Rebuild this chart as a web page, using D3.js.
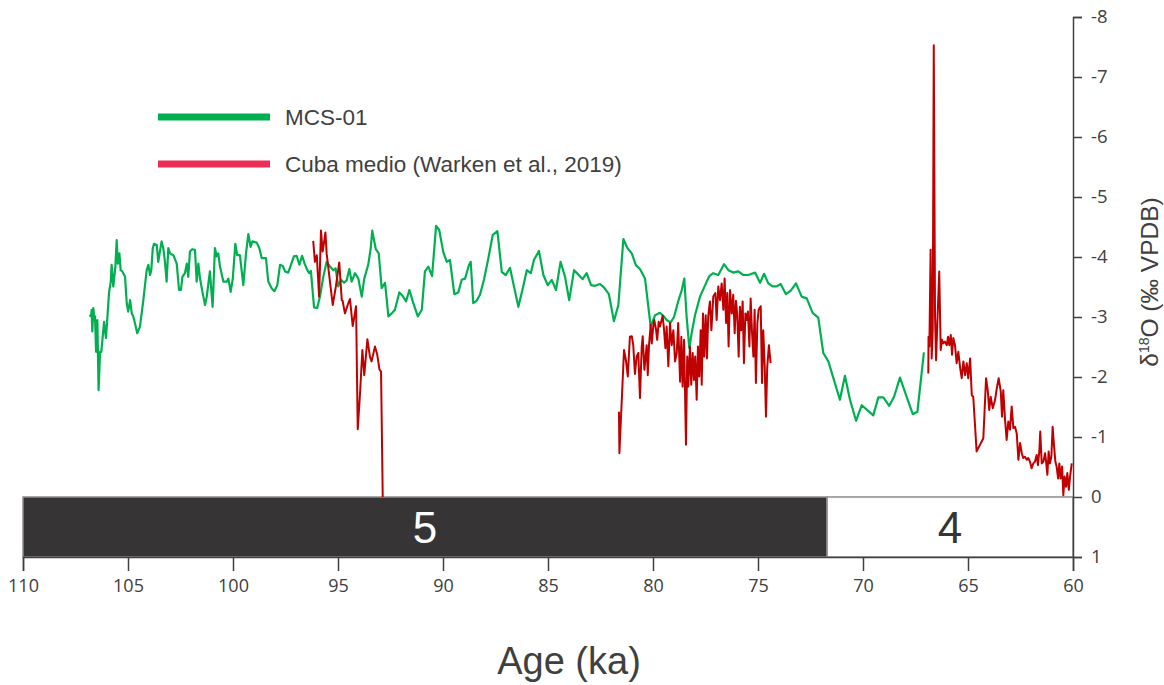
<!DOCTYPE html>
<html>
<head>
<meta charset="utf-8">
<script src="https://cdn.jsdelivr.net/npm/d3@7"></script>
<style>
  html, body { margin: 0; padding: 0; background: #fff; }
  svg { display: block; }
</style>
</head>
<body>
<svg id="chart" width="1164" height="685"></svg>
<script>
// MCS-01 speleothem record: age (ka) and δ18O (‰ VPDB)
const mcsAge = [106.84,106.76,106.73,106.70,106.65,106.60,106.57,106.52,106.46,106.40,106.33,106.27,106.14,106.05,105.99,105.90,105.82,105.78,105.70,105.60,105.54,105.48,105.41,105.35,105.27,105.14,105.06,104.99,104.90,104.82,104.75,104.67,104.56,104.43,104.27,104.11,104.03,103.95,103.89,103.82,103.76,103.63,103.56,103.48,103.40,103.32,103.24,103.16,103.08,103.00,102.84,102.68,102.57,102.48,102.41,102.29,102.20,102.13,102.05,101.94,101.81,101.73,101.65,101.57,101.44,101.33,101.25,101.10,100.97,100.86,100.78,100.70,100.62,100.46,100.30,100.22,100.11,100.01,99.89,99.80,99.67,99.51,99.38,99.27,99.16,99.08,98.87,98.75,98.63,98.43,98.32,98.16,98.03,97.89,97.76,97.63,97.52,97.37,97.20,97.10,96.97,96.84,96.71,96.59,96.46,96.37,96.29,96.14,95.99,95.86,95.70,95.54,95.38,95.22,95.11,94.99,94.86,94.71,94.59,94.46,94.35,94.19,94.03,93.87,93.75,93.56,93.44,93.37,93.20,93.06,92.92,92.76,92.60,92.44,92.29,92.08,91.92,91.76,91.60,91.44,91.20,91.01,90.86,90.70,90.52,90.33,90.18,89.99,89.82,89.67,89.46,89.27,89.11,88.95,88.76,88.68,88.56,88.40,88.24,88.05,87.84,87.63,87.41,87.20,87.01,86.81,86.62,86.41,86.18,86.01,85.82,85.67,85.43,85.22,85.01,84.82,84.62,84.40,84.19,83.99,83.76,83.56,83.35,83.16,82.95,82.76,82.52,82.33,82.10,81.86,81.65,81.41,81.22,81.01,80.81,80.62,80.38,80.11,79.90,79.67,79.51,79.35,79.16,79.00,78.80,78.63,78.51,78.40,78.27,78.16,78.00,77.76,77.48,77.32,77.13,76.89,76.62,76.41,76.18,75.94,75.70,75.46,75.14,74.90,74.71,74.51,74.30,74.11,73.92,73.67,73.44,73.19,72.92,72.68,72.40,72.13,71.89,71.65,71.10,70.86,70.62,70.33,70.06,69.51,69.27,69.03,68.75,68.52,68.24,67.92,67.63,67.41,67.10];
const mcsD18O = [-3.03,-3.01,-3.12,-2.76,-3.15,-2.95,-3.01,-2.42,-2.95,-1.78,-2.42,-2.42,-2.92,-2.65,-2.95,-3.42,-3.59,-3.87,-3.51,-3.84,-4.28,-3.89,-4.06,-3.78,-3.76,-3.67,-3.23,-3.09,-3.28,-3.06,-3.01,-2.90,-2.73,-2.84,-3.28,-3.78,-3.87,-3.70,-3.78,-4.15,-4.22,-4.20,-3.92,-4.09,-4.26,-4.15,-3.92,-3.59,-4.15,-4.06,-4.03,-3.89,-3.45,-3.45,-3.67,-3.73,-3.89,-3.67,-4.09,-4.13,-4.12,-3.59,-3.89,-3.64,-3.39,-3.20,-3.34,-3.76,-3.17,-4.15,-4.01,-4.06,-3.84,-3.59,-3.59,-3.64,-3.42,-3.64,-4.22,-4.03,-4.03,-3.53,-4.06,-4.38,-4.17,-4.26,-4.24,-4.15,-3.98,-3.98,-3.59,-3.48,-3.43,-3.53,-3.87,-3.85,-3.76,-3.74,-3.91,-4.01,-4.02,-3.87,-4.02,-3.89,-3.78,-3.73,-3.77,-3.16,-3.15,-3.34,-3.67,-3.92,-3.84,-3.78,-3.81,-3.51,-3.62,-3.57,-3.61,-3.80,-3.59,-3.73,-3.64,-3.34,-3.64,-3.87,-4.15,-4.44,-4.13,-4.06,-3.48,-3.57,-3.01,-3.06,-3.12,-3.41,-3.35,-3.26,-3.45,-3.26,-3.01,-3.12,-3.76,-3.84,-3.68,-4.52,-4.45,-4.09,-3.92,-3.95,-3.38,-3.41,-3.62,-3.64,-3.87,-3.92,-3.23,-3.27,-3.37,-3.62,-3.98,-4.37,-4.43,-3.75,-3.70,-3.82,-3.51,-3.17,-3.51,-3.78,-3.73,-3.95,-4.10,-3.70,-3.53,-3.62,-3.45,-3.92,-3.67,-3.28,-3.78,-3.71,-3.63,-3.73,-3.53,-3.52,-3.55,-3.49,-3.38,-2.93,-3.20,-4.30,-4.15,-4.06,-3.86,-3.80,-3.64,-2.84,-3.03,-3.07,-3.02,-2.95,-2.91,-3.00,-3.26,-3.45,-3.64,-3.01,-2.48,-2.73,-3.03,-3.34,-3.56,-3.68,-3.73,-3.70,-3.88,-3.78,-3.74,-3.76,-3.70,-3.70,-3.74,-3.57,-3.72,-3.56,-3.51,-3.51,-3.55,-3.38,-3.44,-3.56,-3.34,-3.31,-3.07,-2.99,-2.40,-2.26,-1.62,-2.02,-1.62,-1.27,-1.53,-1.36,-1.66,-1.66,-1.52,-1.67,-1.99,-1.67,-1.38,-1.42,-2.41];

// Cuba medio record (Warken et al., 2019), three growth segments
const cubaAge1 = [96.18,96.10,96.01,95.90,95.81,95.73,95.65,95.60,95.54,95.41,95.25,95.10,94.94,94.82,94.78,94.67,94.51,94.43,94.30,94.22,94.14,94.06,93.95,93.84,93.75,93.60,93.48,93.40,93.24,93.13,93.03,92.95,92.87];
const cubaD18O1 = [-4.27,-3.92,-4.03,-3.34,-4.44,-4.09,-4.28,-4.41,-4.06,-3.67,-3.20,-3.51,-3.91,-3.28,-3.27,-3.06,-3.23,-3.30,-2.85,-3.01,-3.18,-1.13,-1.73,-2.45,-2.03,-2.63,-2.34,-2.26,-2.51,-2.37,-2.13,-2.09,0.00];

const cubaAge2 = [81.62,81.60,81.38,81.29,81.20,81.10,81.01,80.94,80.86,80.78,80.70,80.62,80.54,80.49,80.41,80.30,80.25,80.19,80.11,80.06,79.99,79.94,79.86,79.80,79.73,79.67,79.59,79.54,79.48,79.41,79.35,79.27,79.19,79.11,79.03,78.95,78.87,78.80,78.71,78.65,78.59,78.52,78.48,78.43,78.37,78.32,78.24,78.18,78.11,78.05,77.99,77.92,77.86,77.80,77.73,77.68,77.62,77.56,77.49,77.43,77.37,77.29,77.22,77.13,77.03,76.97,76.89,76.81,76.73,76.65,76.59,76.52,76.46,76.40,76.33,76.25,76.18,76.11,76.05,75.99,75.92,75.86,75.80,75.73,75.67,75.60,75.54,75.48,75.41,75.35,75.29,75.22,75.16,75.10,75.03,74.97,74.87,74.81,74.75,74.68,74.62,74.56,74.48,74.40];
const cubaD18O2 = [-1.42,-0.73,-2.45,-2.28,-2.01,-2.67,-2.68,-2.53,-2.05,-2.34,-2.40,-1.65,-2.48,-2.68,-2.12,-2.53,-2.03,-2.53,-2.87,-2.56,-2.83,-2.95,-2.80,-2.62,-2.92,-2.84,-2.95,-3.02,-2.81,-2.48,-2.84,-2.18,-2.90,-2.53,-2.78,-2.26,-2.40,-2.90,-1.92,-2.67,-1.84,-2.62,-1.84,-0.87,-2.34,-1.84,-2.51,-1.87,-2.40,-1.95,-2.34,-1.62,-2.51,-2.01,-2.78,-1.87,-3.06,-2.34,-3.03,-2.31,-3.01,-3.26,-2.78,-3.34,-3.40,-2.95,-3.51,-3.28,-3.56,-3.12,-3.64,-2.90,-3.40,-2.51,-3.45,-3.06,-3.37,-2.73,-3.27,-3.06,-2.34,-3.17,-2.78,-3.26,-2.23,-3.06,-2.95,-3.09,-2.51,-3.31,-2.78,-2.34,-3.12,-1.90,-2.90,-3.12,-3.18,-1.90,-2.78,-2.17,-1.34,-2.17,-2.53,-2.23];

const cubaAge3 = [66.89,66.88,66.84,66.78,66.73,66.68,66.63,66.57,66.52,66.46,66.37,66.30,66.24,66.18,66.10,66.01,65.95,65.89,65.82,65.76,65.70,65.62,65.54,65.46,65.38,65.30,65.22,65.14,65.06,64.99,64.90,64.82,64.75,64.59,64.27,64.14,64.06,63.99,63.92,63.82,63.71,63.63,63.54,63.44,63.38,63.32,63.24,63.16,63.08,63.00,62.92,62.84,62.76,62.68,62.60,62.52,62.44,62.37,62.29,62.20,62.13,62.05,61.97,61.89,61.81,61.73,61.67,61.60,61.56,61.49,61.41,61.33,61.29,61.22,61.16,61.10,61.03,60.97,60.90,60.84,60.78,60.71,60.65,60.59,60.52,60.46,60.40,60.33,60.27,60.20,60.14,60.06];
const cubaD18O3 = [-2.06,-2.67,-2.51,-4.12,-2.31,-2.78,-7.53,-3.01,-2.28,-2.90,-3.76,-2.45,-2.62,-2.56,-2.59,-2.53,-2.67,-2.53,-2.70,-2.37,-2.65,-2.53,-2.23,-2.42,-2.17,-1.98,-2.26,-2.03,-2.23,-1.98,-2.31,-1.70,-1.67,-0.76,-0.98,-1.98,-1.78,-1.45,-1.67,-1.48,-1.62,-1.81,-1.98,-1.76,-1.34,-1.78,-1.31,-0.95,-1.26,-1.12,-1.51,-1.15,-1.17,-1.06,-0.62,-0.90,-0.73,-0.65,-0.67,-0.62,-0.65,-0.59,-0.48,-0.56,-0.59,-0.70,-0.53,-0.78,-1.09,-0.56,-0.59,-0.73,-0.62,-0.37,-0.76,-0.56,-0.67,-1.17,-0.84,-0.59,-0.51,-0.31,-0.56,-0.31,-0.51,-0.03,-0.34,-0.17,-0.40,-0.12,-0.34,-0.56];

// Marine isotope stages
const stageNames = ["5", "4"];
const stageStart = [110, 71.71];
const stageEnd = [71.71, 60];

// Axis ticks
const ageTicks = [110, 105, 100, 95, 90, 85, 80, 75, 70, 65, 60];
const d18oTicks = [-8, -7, -6, -5, -4, -3, -2, -1, 0, 1];

// Legend entries
const legendLabels = ["MCS-01", "Cuba medio (Warken et al., 2019)"];
const legendColors = ["#00b050", "#ec2d57"];

const svg = d3.select("#chart");
const x = d3.scaleLinear().domain([110, 60]).range([23, 1073]);
const y = d3.scaleLinear().domain([-8, 1]).range([17, 557]);
const barTop = y(0), barBottom = y(1);
const textColor = "#404040";

// Stage bar
const stages = stageNames.map((n, i) => ({ name: n, a: stageStart[i], b: stageEnd[i] }));
svg.selectAll("rect.stage").data(stages).enter().append("rect")
  .attr("x", d => x(d.a))
  .attr("y", barTop)
  .attr("width", d => x(d.b) - x(d.a))
  .attr("height", barBottom - barTop)
  .attr("fill", (d, i) => i === 0 ? "#363435" : "#ffffff")
  .attr("stroke", "#8c8c8c")
  .attr("stroke-width", 1.5);
svg.selectAll("text.stage").data(stages).enter().append("text")
  .attr("x", d => (x(d.a) + x(d.b)) / 2)
  .attr("y", (barTop + barBottom) / 2 + 16)
  .attr("text-anchor", "middle")
  .attr("font-family", "'Liberation Sans', Arial, sans-serif")
  .attr("font-size", 44)
  .attr("fill", (d, i) => i === 0 ? "#ffffff" : "#363435")
  .text(d => d.name);

// Data lines
const line = d3.line().x(d => x(d[0])).y(d => y(d[1]));
const zip = (a, b) => a.map((v, i) => [v, b[i]]);
svg.append("path").datum(zip(mcsAge, mcsD18O))
  .attr("d", line).attr("fill", "none")
  .attr("stroke", "#00b050").attr("stroke-width", 2.2).attr("stroke-linejoin", "round");
[[cubaAge1, cubaD18O1], [cubaAge2, cubaD18O2], [cubaAge3, cubaD18O3]].forEach(([a, v]) => {
  svg.append("path").datum(zip(a, v))
    .attr("d", line).attr("fill", "none")
    .attr("stroke", "#c00000").attr("stroke-width", 2).attr("stroke-linejoin", "round");
});

// Bottom axis
const xAxis = svg.append("g").attr("transform", `translate(0,${barBottom})`)
  .call(d3.axisBottom(x).tickValues(ageTicks).tickSize(14).tickPadding(8).tickFormat(d3.format("d")));
xAxis.select(".domain").attr("stroke", "#404040").attr("stroke-width", 1.5);
xAxis.selectAll(".tick line").attr("stroke", "#404040").attr("stroke-width", 1.5);
xAxis.selectAll("text").attr("font-family", "'Open Sans', sans-serif").attr("font-size", 18).attr("fill", textColor);

// Right axis
const yAxis = svg.append("g").attr("transform", `translate(${x(60)},0)`)
  .call(d3.axisRight(y).tickValues(d18oTicks).tickSize(9).tickPadding(9).tickFormat(d3.format("d")));
yAxis.select(".domain").attr("stroke", "#404040").attr("stroke-width", 1.5);
yAxis.selectAll(".tick line").attr("stroke", "#404040").attr("stroke-width", 1.5);
yAxis.selectAll("text").attr("font-family", "'Open Sans', sans-serif").attr("font-size", 18.5).attr("fill", textColor)
  .text(d => d < 0 ? "-" + Math.abs(d) : d);

// Axis titles
svg.append("text")
  .attr("x", 569).attr("y", 674)
  .attr("text-anchor", "middle")
  .attr("font-family", "'Liberation Sans', Arial, sans-serif")
  .attr("font-size", 38).attr("fill", textColor)
  .text("Age (ka)");
const yt = svg.append("text")
  .attr("transform", "translate(1158,282) rotate(-90)")
  .attr("text-anchor", "middle")
  .attr("font-family", "'Liberation Sans', Arial, sans-serif")
  .attr("font-size", 24.5).attr("fill", textColor);
yt.append("tspan").text("δ");
yt.append("tspan").attr("font-size", 14).attr("dy", -9).text("18");
yt.append("tspan").attr("dy", 9).text("O (‰ VPDB)");

// Legend
const legend = svg.selectAll("g.legend").data(legendLabels).enter().append("g")
  .attr("transform", (d, i) => `translate(158,${117 + i * 47})`);
legend.append("line").attr("x1", 0).attr("x2", 112).attr("y1", 0).attr("y2", 0)
  .attr("stroke", (d, i) => legendColors[i]).attr("stroke-width", 7);
legend.append("text").attr("x", 127).attr("y", 8)
  .attr("font-family", "'Liberation Sans', Arial, sans-serif")
  .attr("font-size", 22.5).attr("fill", textColor)
  .text(d => d);
</script>
</body>
</html>
